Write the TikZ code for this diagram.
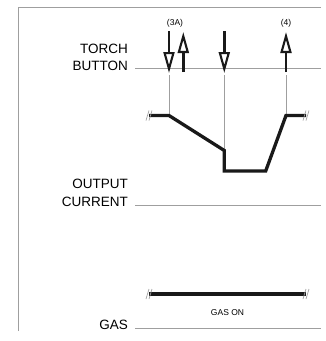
\documentclass[tikz,border=0pt]{standalone}
\usepackage{fontspec}
\setmainfont{Liberation Sans}
\usetikzlibrary{arrows.meta}
\begin{document}
\begin{tikzpicture}[x=1pt,y=-1pt,
  thinline/.style={draw=gray!75, line width=0.8pt},
  wave/.style={draw=black!90, line width=3.3pt, line join=miter},
  arr/.style={draw=black!90, line width=2.8pt,
    -{Triangle[open, length=21pt, width=11pt, line width=2.1pt]}},
  lbl/.style={font=\fontsize{13.5}{14}\selectfont, anchor=base east, inner sep=0pt},
  small/.style={font=\fontsize{8.5}{9}\selectfont, anchor=base, inner sep=0pt},
  brk/.pic={\draw[gray!75, line width=0.7pt] (-3,5) -- (0,-5) (0,5) -- (3,-5);}]
\useasboundingbox (0,0) rectangle (326,341);
% frame
\draw[thinline] (18,331) -- (18,7) -- (321,7);
% signal base lines
\draw[thinline] (135,68) -- (321,68);
\draw[thinline] (135,205) -- (321,205);
\draw[thinline] (135,328) -- (321,328);
% labels
\node[lbl] (torch) at (128,53) {TORCH};
\node[lbl] (button) at (128,70) {BUTTON};
\node[lbl] (output) at (128,188.5) {OUTPUT};
\node[lbl] (current) at (128,206) {CURRENT};
\node[lbl] (gas) at (128,329) {GAS};
\node[small] (l3a) at (175,25) {(3A)};
\node[small] (l4) at (286,25) {(4)};
\node[small] (gason) at (227.5,315) {GAS ON};
% arrow coordinates
\coordinate (a1s) at (169,31);   \coordinate (a1e) at (169,73);
\coordinate (a2s) at (183.3,72); \coordinate (a2e) at (183.3,32);
\coordinate (a3s) at (224.3,31); \coordinate (a3e) at (224.3,73);
\coordinate (a4s) at (286,72);   \coordinate (a4e) at (286,32);
\draw[arr] (a1s) -- (a1e);
\draw[arr] (a2s) -- (a2e);
\draw[arr] (a3s) -- (a3e);
\draw[arr] (a4s) -- (a4e);
% waveform points
\coordinate (w0) at (149,115.5);
\coordinate (w1) at (169,115.5);
\coordinate (w2) at (224.3,150.5);
\coordinate (w3) at (224.3,171);
\coordinate (w4) at (265.7,171);
\coordinate (w5) at (286,115.5);
\coordinate (w6) at (306,115.5);
% thin drop lines
\draw[thinline] (169,75) -- (w1);
\draw[thinline] (224.3,75) -- (w2);
\draw[thinline] (286,75) -- (w5);
\draw[wave] (w0) -- (w1) -- (w2) -- (w3) -- (w4) -- (w5) -- (w6);
\pic at (w0) {brk};
\pic at (w6) {brk};
% gas on
\coordinate (g0) at (149,294);
\coordinate (g1) at (306,294);
\draw[wave] (g0) -- (g1);
\pic at (g0) {brk};
\pic at (g1) {brk};
\end{tikzpicture}
\end{document}
